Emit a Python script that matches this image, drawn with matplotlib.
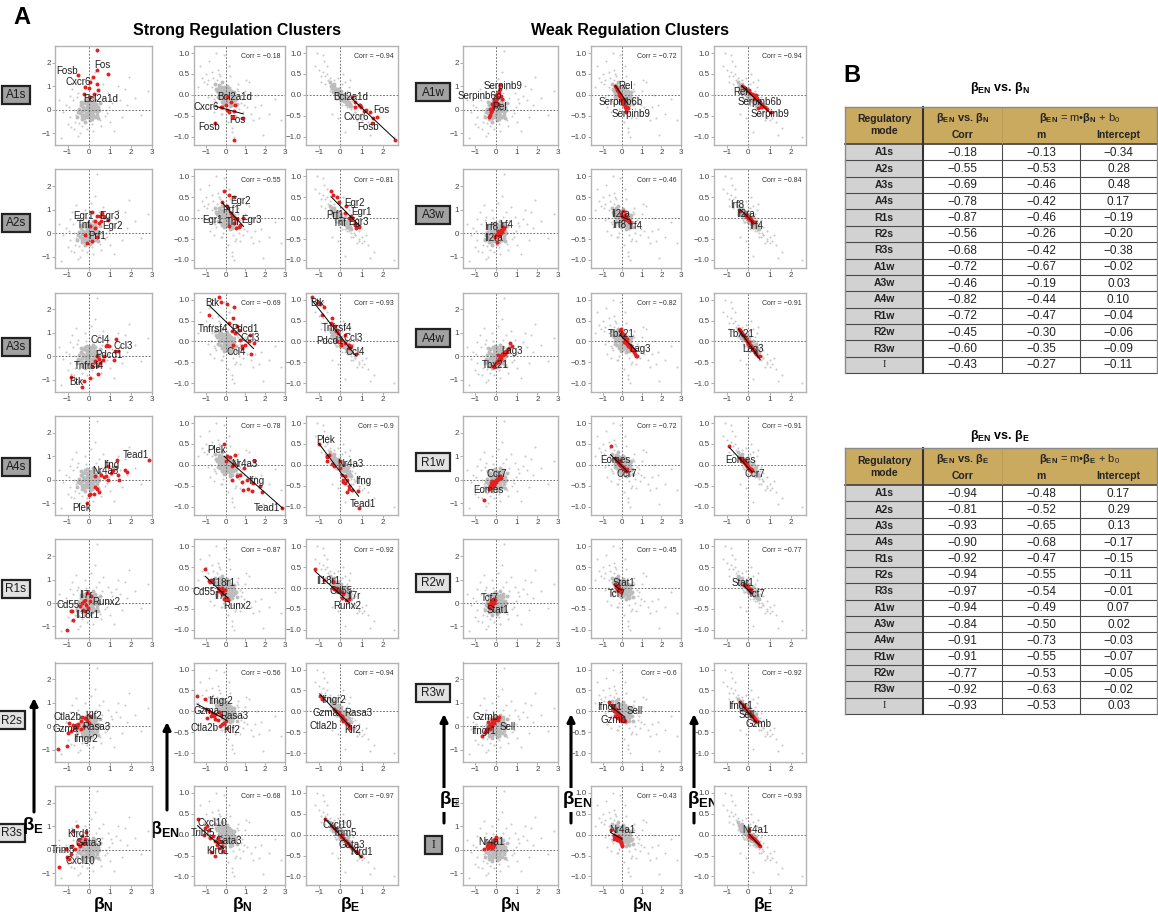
import matplotlib
matplotlib.use('Agg')
import matplotlib.pyplot as plt
from matplotlib.patches import Rectangle

plt.rcParams['font.family'] = ['Liberation Sans', 'DejaVu Sans']
plt.rcParams['mathtext.fontset'] = 'custom'
plt.rcParams['mathtext.rm'] = 'Liberation Sans'
plt.rcParams['mathtext.bf'] = 'Liberation Sans:bold'
plt.rcParams['mathtext.it'] = 'Liberation Sans:italic'
plt.rcParams['mathtext.sf'] = 'Liberation Sans'

W, H = 1158, 914

# ---- background genes (beta_N, beta_E, beta_EN), shared by every cluster panel ----
# dense core near the origin
core_n = [0.00, 0.10, -0.10, 0.15, -0.15, 0.05, -0.05, 0.25, -0.25, 0.20,
          -0.20, 0.30, -0.30, 0.08, -0.08, 0.35, -0.35, 0.12, -0.12, 0.40,
          -0.40, 0.02, -0.02, 0.18, -0.18, 0.22, -0.22, 0.28, -0.28, 0.45,
          -0.45, 0.06, -0.06, 0.32, -0.32, 0.14, -0.14, 0.26, -0.26, 0.04,
          -0.04, 0.38, -0.38, 0.50, -0.50, 0.16, -0.16, 0.09, -0.09, 0.24,
          -0.24, 0.55, -0.55, 0.34, -0.34, 0.01, -0.01, 0.20, -0.20, 0.42]
core_e = [0.00, 0.05, 0.08, -0.10, -0.12, 0.20, -0.20, 0.15, 0.10, -0.20,
          -0.25, 0.00, -0.05, 0.30, -0.32, 0.25, 0.20, -0.30, 0.28, -0.08,
          -0.15, 0.12, -0.08, 0.10, 0.02, 0.35, -0.35, -0.30, 0.30, 0.10,
          0.05, -0.45, 0.45, 0.40, -0.40, 0.18, -0.18, -0.05, -0.22, 0.38,
          0.22, -0.20, 0.35, 0.00, -0.10, -0.40, 0.40, -0.15, 0.15, 0.25,
          -0.02, 0.30, -0.30, 0.08, -0.28, -0.28, 0.30, 0.50, -0.50, -0.35]
core_en = [0.00, -0.03, -0.02, 0.06, 0.08, -0.12, 0.10, -0.10, 0.00, 0.08,
           0.14, -0.05, 0.05, -0.15, 0.18, -0.16, 0.02, 0.12, -0.10, -0.02,
           0.12, -0.08, 0.04, -0.09, 0.03, -0.20, 0.20, 0.10, -0.08, -0.12,
           0.10, 0.22, -0.22, -0.24, 0.24, -0.14, 0.12, 0.00, 0.15, -0.18,
           -0.10, 0.04, -0.06, -0.10, 0.15, 0.16, -0.16, 0.05, -0.06, -0.15,
           0.06, -0.22, 0.25, -0.08, 0.18, 0.16, -0.14, -0.26, 0.30, 0.08]
# sparse outliers
tail_n = [1.50, 2.80, -1.30, 0.40, -0.90, 1.00, 0.70, -0.70, 1.80, -1.10,
          0.90, -0.60, 1.20, -1.00, 0.60, -0.80, 2.20, 0.30, -0.40, 1.40,
          -1.40, 0.80, -0.70, 0.50, -0.50, 1.10, -0.90, 0.20, -0.20, 1.60,
          0.75, -0.75, 0.65, -0.65, 2.50, 0.10, -0.30, 0.95, -0.95, 1.30,
          -1.20, 0.55, -0.55, 1.70, 0.85, -0.45, 0.35, -0.15, 0.60, -0.60,
          -0.10, -0.50, 0.30, 1.90, -0.85, 0.45, -0.35, 1.05, 0.15, -0.25]
tail_e = [0.40, 0.80, -1.20, 2.50, 0.60, -0.50, 1.10, -0.80, 0.20, 0.20,
          0.70, 1.20, -0.90, -0.60, -0.70, 0.90, 0.50, 1.60, -1.00, 1.00,
          0.40, 0.00, 0.00, 0.90, 0.70, 0.30, -0.30, -0.90, 1.00, -0.30,
          -0.25, 0.40, 0.50, -0.50, -0.20, 1.30, -0.70, 0.10, 0.10, 0.60,
          -0.10, -0.45, 0.55, 0.90, -0.15, -0.55, 0.70, 0.65, 0.30, -0.20,
          -0.80, -1.10, 0.20, 1.40, -0.75, -0.10, 0.15, 0.45, -0.60, -0.40]
tail_en = [-0.30, -0.60, 0.70, -1.00, -0.05, 0.10, -0.55, 0.55, -0.25, 0.30,
           -0.40, -0.40, 0.30, 0.50, 0.25, -0.30, -0.45, -0.80, 0.60, -0.60,
           0.20, -0.20, 0.20, -0.50, -0.20, -0.30, 0.35, 0.45, -0.45, 0.00,
           -0.05, 0.00, -0.35, 0.40, -0.10, -0.65, 0.45, -0.25, 0.25, -0.45,
           0.40, 0.15, -0.15, -0.55, -0.10, 0.35, -0.40, -0.35, 0.10, -0.10,
           0.95, 1.00, -0.90, -0.95, 0.80, -0.55, 0.50, 0.35, 0.70, -0.45]

# ---- cluster names and regression summary (table B) ----
strong_modes = ['A1s', 'A2s', 'A3s', 'A4s', 'R1s', 'R2s', 'R3s']
weak_modes = ['A1w', 'A3w', 'A4w', 'R1w', 'R2w', 'R3w', 'I']
table_modes = strong_modes + weak_modes

corr_en_n = [-0.18, -0.55, -0.69, -0.78, -0.87, -0.56, -0.68, -0.72, -0.46, -0.82, -0.72, -0.45, -0.60, -0.43]
slope_en_n = [-0.13, -0.53, -0.46, -0.42, -0.46, -0.26, -0.42, -0.67, -0.19, -0.44, -0.47, -0.30, -0.35, -0.27]
icpt_en_n = [-0.34, 0.28, 0.48, 0.17, -0.19, -0.20, -0.38, -0.02, 0.03, 0.10, -0.04, -0.06, -0.09, -0.11]
corr_en_e = [-0.94, -0.81, -0.93, -0.90, -0.92, -0.94, -0.97, -0.94, -0.84, -0.91, -0.91, -0.77, -0.92, -0.93]
slope_en_e = [-0.48, -0.52, -0.65, -0.68, -0.47, -0.55, -0.54, -0.49, -0.50, -0.73, -0.55, -0.53, -0.63, -0.53]
icpt_en_e = [0.17, 0.29, 0.13, -0.17, -0.15, -0.11, -0.01, 0.07, 0.02, -0.03, -0.07, -0.05, -0.02, 0.03]

# ---- cluster member genes: beta_N, beta_E, beta_EN ----
A1s_N = [0.40, -0.52, 0.37, 0.89, 0.18, 0.40, 0.08, -0.16, 0.00, 0.45, 0.27, -0.24, 0.05]
A1s_E = [2.54, 1.50, 1.71, 1.54, 1.39, 1.11, 1.20, 0.97, 0.93, 0.86, 0.69, 0.67, 0.54]
A1s_EN = [-1.09, -0.68, -0.52, -0.55, -0.42, -0.38, -0.36, -0.28, -0.25, -0.25, -0.18, -0.30, -0.05]

A2s_N = [-0.08, 0.16, 0.40, -0.16, 0.05, 0.29, 0.32, 0.48, 0.56, 0.16, 0.40, 0.65, 0.90, 0.52, 0.72]
A2s_E = [-0.43, -0.33, -0.17, -0.07, 0.29, 0.21, 0.50, 0.43, 0.50, 0.89, 0.71, 0.86, 0.55, 0.75, 0.70]
A2s_EN = [0.66, 0.55, 0.50, 0.38, 0.30, 0.12, 0.05, 0.00, -0.02, -0.18, -0.12, -0.20, 0.00, -0.24, -0.16]

A3s_N = [-0.32, -0.24, -0.85, 0.05, 0.44, 0.16, 0.38, 0.55, 0.69, 0.47, 0.32, 0.72, 1.24, 1.41, 0.85, 0.97, 1.29, 0.81, 0.38, 1.20]
A3s_E = [-1.31, -1.03, -0.86, -0.93, -0.74, -0.43, -0.40, -0.26, -0.14, -0.10, -0.21, 0.03, 0.21, 0.21, 0.50, 0.43, 0.74, 0.43, 0.03, -0.14]
A3s_EN = [1.07, 0.95, 0.63, 0.90, 0.83, 0.44, 0.56, 0.36, 0.28, 0.20, 0.24, 0.04, 0.16, -0.04, -0.12, -0.08, -0.30, -0.16, -0.08, 0.00]

A4s_N = [2.87, -0.08, 0.05, 0.00, 0.24, 0.48, 0.40, 0.32, 0.32, 0.56, 0.73, 0.81, 0.92, 1.13, 0.89, 1.32, 1.37, 1.45, 1.73, 1.82, 1.07]
A4s_E = [0.86, -1.00, -0.61, -0.64, -0.61, -0.54, -0.40, -0.31, 0.14, 0.21, 0.10, 0.14, -0.03, 0.43, 0.57, 0.83, 0.21, -0.03, 0.43, 0.31, 0.30]
A4s_EN = [-1.03, 0.50, 0.20, 0.10, 0.18, 0.24, 0.02, -0.04, -0.36, -0.28, -0.24, -0.41, -0.08, -0.58, -0.61, -0.62, -0.44, 0.08, -0.50, -0.65, -0.36]

R1s_N = [-1.02, -0.76, -0.80, -0.85, -0.40, -0.32, -0.24, -0.16, -0.11, -0.05, -0.27, -0.16, 0.08, 0.11, -0.08]
R1s_E = [-1.17, -0.74, -0.36, -0.33, -0.14, 0.00, 0.07, 0.14, -0.07, -0.21, -0.29, -0.36, 0.07, 0.29, 0.43]
R1s_EN = [0.45, 0.20, 0.14, 0.16, 0.00, -0.08, -0.10, -0.14, -0.08, -0.05, -0.02, 0.00, -0.24, -0.28, -0.26]

R2s_N = [-1.45, -1.03, -0.92, -0.76, -0.71, -0.60, -0.52, -0.39, -0.31, -0.23, -0.06, 0.00, -0.35, -1.00, -0.84, -0.55, -0.20, 0.05]
R2s_E = [-0.96, -0.86, 0.14, 0.07, -0.07, 0.04, 0.10, 0.21, 0.40, 0.00, 0.29, 0.14, -0.10, -0.29, -0.21, -0.04, 0.35, 0.45]
R2s_EN = [0.38, 0.30, -0.15, -0.12, -0.04, -0.10, -0.18, -0.20, -0.35, -0.08, -0.28, -0.22, -0.02, 0.06, 0.00, -0.06, -0.30, -0.40]

R3s_N = [-1.42, -1.08, -0.85, -0.56, -0.73, -0.32, -0.11, -0.44, -0.53, -0.32, -0.16, -0.65, -0.81, -0.40, -0.20, -1.05, -0.95]
R3s_E = [-0.72, 0.03, -0.20, 0.99, 0.78, 0.57, 0.73, 0.43, 0.26, 0.29, 0.29, 0.03, 0.14, 0.14, 0.45, -0.30, -0.40]
R3s_EN = [0.38, 0.00, 0.10, -0.52, -0.42, -0.32, -0.40, -0.24, -0.15, -0.16, -0.17, -0.02, -0.08, -0.08, -0.26, 0.16, 0.20]

A1w_N = [-0.35, -0.30, -0.25, -0.20, -0.28, -0.15, -0.10, -0.18, -0.05, 0.00, -0.08, 0.05, 0.10, 0.02, 0.12, 0.15, 0.18, 0.20, 0.25, 0.28, -0.12, 0.08]
A1w_E = [-0.30, -0.22, -0.10, 0.00, 0.05, 0.10, 0.18, 0.25, 0.30, 0.40, 0.45, 0.50, 0.55, 0.62, 0.70, 0.80, 0.90, 1.07, 0.60, 0.45, 0.35, 0.25]
A1w_EN = [0.22, 0.18, 0.14, 0.10, 0.12, 0.05, 0.02, 0.00, -0.06, -0.10, -0.12, -0.14, -0.18, -0.22, -0.26, -0.30, -0.35, -0.42, -0.30, -0.32, 0.00, -0.10]

A3w_N = [0.00, 0.05, 0.10, 0.15, 0.20, 0.25, 0.30, 0.35, 0.12, 0.18, 0.28, 0.08, 0.22, 0.40, -0.05, 0.32, 0.05]
A3w_E = [-0.08, -0.05, 0.00, 0.05, 0.02, 0.10, 0.12, 0.17, -0.10, -0.02, 0.05, 0.08, 0.15, 0.20, -0.15, 0.25, -0.38]
A3w_EN = [0.06, 0.04, 0.02, 0.00, -0.01, -0.03, -0.04, -0.06, 0.08, 0.03, -0.02, 0.00, -0.05, -0.08, 0.10, -0.10, 0.17]

A4w_N = [-0.13, -0.08, 0.00, 0.05, 0.10, 0.12, 0.15, 0.20, 0.18, 0.25, 0.28, 0.30, 0.35, 0.38, 0.42, 0.45, 0.50, 0.55, 0.60, 0.65, 0.69, 0.75, 0.22, 0.08]
A4w_E = [-0.40, -0.45, -0.30, -0.20, -0.25, -0.10, -0.15, -0.05, 0.00, 0.00, 0.05, 0.10, 0.08, 0.15, 0.12, 0.20, 0.25, 0.22, 0.30, 0.35, 0.56, 0.45, -0.12, 0.05]
A4w_EN = [0.27, 0.29, 0.20, 0.12, 0.15, 0.05, 0.08, 0.02, -0.03, -0.05, -0.06, -0.10, -0.09, -0.14, -0.12, -0.17, -0.21, -0.19, -0.25, -0.30, -0.34, -0.34, 0.06, -0.02]

R1w_N = [-0.60, -0.35, -0.30, -0.28, -0.22, -0.20, -0.15, -0.12, -0.10, -0.05, 0.00, 0.02, 0.05, 0.08, 0.10, 0.15, 0.18, 0.20, 0.25, -0.18, 0.12, -0.25]
R1w_E = [-0.88, -0.40, -0.35, -0.25, -0.30, -0.20, -0.15, -0.22, -0.10, -0.05, -0.08, 0.00, -0.02, 0.05, 0.02, 0.10, 0.15, 0.17, 0.08, -0.05, 0.12, -0.15]
R1w_EN = [0.44, 0.17, 0.15, 0.12, 0.10, 0.06, 0.04, 0.08, 0.00, -0.02, -0.03, -0.05, -0.06, -0.08, -0.09, -0.12, -0.14, -0.12, -0.10, 0.02, -0.10, 0.08]

R2w_N = [-0.35, -0.30, -0.28, -0.25, -0.22, -0.20, -0.18, -0.15, -0.12, -0.10, -0.08, -0.05, -0.15, -0.25, -0.32]
R2w_E = [-0.18, -0.20, -0.10, -0.05, -0.12, 0.00, 0.05, -0.02, 0.08, 0.02, 0.10, 0.12, 0.15, 0.08, -0.05]
R2w_EN = [0.10, 0.08, 0.05, 0.04, 0.06, 0.00, -0.02, -0.01, -0.04, -0.05, -0.08, -0.10, -0.06, -0.02, 0.06]

R3w_N = [-0.69, -0.55, -0.50, -0.45, -0.40, -0.35, -0.30, -0.28, -0.25, -0.20, -0.18, -0.15, -0.10, -0.05, 0.00, 0.05, 0.10, 0.13, -0.38, -0.12, -0.22]
R3w_E = [-0.40, -0.25, -0.15, -0.20, -0.05, 0.00, -0.10, 0.05, 0.10, 0.02, 0.15, 0.20, 0.12, 0.25, 0.30, 0.35, 0.28, 0.40, 0.18, 0.30, 0.25]
R3w_EN = [0.22, 0.15, 0.08, 0.12, 0.02, 0.00, 0.05, -0.04, -0.06, -0.02, -0.10, -0.12, -0.08, -0.16, -0.18, -0.22, -0.20, -0.24, -0.10, -0.20, -0.15]

I_N = [-0.60, -0.40, -0.35, -0.30, -0.25, -0.22, -0.20, -0.18, -0.15, -0.12, -0.10, -0.08, -0.05, -0.02, 0.00, -0.28, -0.32, -0.40, -0.45]
I_E = [0.02, 0.05, 0.10, 0.15, 0.20, 0.08, 0.25, 0.30, 0.12, 0.35, 0.18, 0.40, 0.45, 0.50, 0.55, 0.30, 0.22, 0.28, 0.15]
I_EN = [0.10, 0.00, -0.02, -0.05, -0.08, -0.02, -0.10, -0.13, -0.05, -0.15, -0.08, -0.18, -0.21, -0.24, -0.26, -0.12, -0.09, -0.10, -0.04]

cluster_coefs = {
    'A1s': (A1s_N, A1s_E, A1s_EN), 'A2s': (A2s_N, A2s_E, A2s_EN),
    'A3s': (A3s_N, A3s_E, A3s_EN), 'A4s': (A4s_N, A4s_E, A4s_EN),
    'R1s': (R1s_N, R1s_E, R1s_EN), 'R2s': (R2s_N, R2s_E, R2s_EN),
    'R3s': (R3s_N, R3s_E, R3s_EN), 'A1w': (A1w_N, A1w_E, A1w_EN),
    'A3w': (A3w_N, A3w_E, A3w_EN), 'A4w': (A4w_N, A4w_E, A4w_EN),
    'R1w': (R1w_N, R1w_E, R1w_EN), 'R2w': (R2w_N, R2w_E, R2w_EN),
    'R3w': (R3w_N, R3w_E, R3w_EN), 'I': (I_N, I_E, I_EN),
}

# gene name tags: text placement in the three panels (N-E, N-EN, E-EN)
gene_tags = {
    'A1s': [('Fosb', (-1.05, 1.67), (-0.86, -0.78), (1.31, -0.78)),
            ('Fos', (0.65, 1.93), (0.60, -0.61), (1.92, -0.37)),
            ('Cxcr6', (-0.48, 1.19), (-1.00, -0.29), (0.77, -0.53)),
            ('Bcl2a1d', (0.56, 0.47), (0.47, -0.06), (0.49, -0.06))],
    'A2s': [('Egr1', (-0.24, 0.71), (-0.66, -0.04), (1.00, 0.14)),
            ('Egr3', (1.00, 0.71), (1.33, -0.04), (0.85, -0.08)),
            ('Tnf', (-0.24, 0.33), (0.38, -0.10), (-0.03, -0.12)),
            ('Egr2', (1.13, 0.29), (0.76, 0.42), (0.69, 0.37)),
            ('Prf1', (0.40, -0.11), (0.29, 0.20), (-0.23, 0.08))],
    'A3s': [('Btk', (-0.60, -1.11), (-0.66, 0.91), (-1.08, 0.91)),
            ('Tnfrsf4', (0.00, -0.40), (-0.66, 0.29), (-0.15, 0.32)),
            ('Pdcd1', (0.97, 0.07), (0.95, 0.29), (-0.46, 0.00)),
            ('Ccl3', (1.61, 0.43), (1.24, 0.08), (0.62, 0.08)),
            ('Ccl4', (0.53, 0.71), (0.55, -0.26), (0.69, -0.26))],
    'A4s': [('Tead1', (2.26, 1.07), (2.10, -1.03), (1.08, -0.93)),
            ('Ifng', (1.05, 0.64), (1.55, -0.38), (1.08, -0.38)),
            ('Nr4a3', (0.81, 0.36), (0.93, 0.02), (0.46, 0.02)),
            ('Plek', (-0.32, -1.21), (-0.48, 0.36), (-0.69, 0.60))],
    'R1s': [('Il7r', (-0.16, 0.36), (-0.22, -0.20), (0.62, -0.18)),
            ('Runx2', (0.85, 0.04), (0.59, -0.44), (0.31, -0.42)),
            ('Cd55', (-0.97, -0.07), (-1.09, -0.10), (0.03, -0.06)),
            ('Il18r1', (-0.05, -0.50), (-0.10, 0.13), (-0.54, 0.18))],
    'R2s': [('Ctla2b', (-1.00, 0.39), (-1.07, -0.40), (-0.80, -0.35)),
            ('Klf2', (0.24, 0.46), (0.29, -0.44), (0.56, -0.45)),
            ('Gzma', (-1.11, -0.10), (-0.98, 0.00), (-0.70, -0.05)),
            ('Rasa3', (0.34, -0.04), (0.46, -0.12), (0.85, -0.05)),
            ('Ifngr2', (-0.16, -0.53), (-0.25, 0.26), (-0.33, 0.28))],
    'R3s': [('Klrd1', (-0.48, 0.67), (-0.40, -0.38), (1.00, -0.42)),
            ('Gata3', (0.00, 0.27), (0.17, -0.15), (0.54, -0.24)),
            ('Trim5', (-1.21, -0.03), (-1.17, 0.05), (0.23, 0.04)),
            ('Cxcl10', (-0.40, -0.50), (-0.66, 0.29), (-0.15, 0.24))],
    'A1w': [('Serpinb9', (0.36, 1.03), (0.42, -0.46), (1.00, -0.46)),
            ('Serpinb6b', (-0.79, 0.57), (-0.08, -0.16), (0.54, -0.16)),
            ('Rel', (0.16, 0.14), (0.17, 0.21), (-0.35, 0.06))],
    'A3w': [('Irf8', (-0.26, 0.27), (-0.17, -0.16), (-0.54, 0.32)),
            ('Irf4', (0.49, 0.36), (0.63, -0.18), (0.38, -0.18)),
            ('Il2ra', (-0.10, -0.21), (-0.08, 0.10), (-0.15, 0.10))],
    'A4w': [('Lag3', (0.77, 0.21), (0.88, -0.18), (0.23, -0.18)),
            ('Tbx21', (-0.05, -0.36), (-0.05, 0.17), (-0.35, 0.17))],
    'R1w': [('Ccr7', (0.03, 0.24), (0.25, -0.22), (0.31, -0.22)),
            ('Eomes', (-0.38, -0.44), (-0.33, 0.12), (-0.38, 0.12))],
    'R2w': [('Tcf7', (-0.33, 0.20), (-0.28, -0.14), (0.38, -0.14)),
            ('Stat1', (0.11, -0.30), (0.08, 0.11), (-0.23, 0.11))],
    'R3w': [('Gzmb', (-0.52, 0.40), (-0.46, -0.20), (0.46, -0.30)),
            ('Sell', (0.54, -0.03), (0.64, 0.00), (-0.08, -0.09)),
            ('Ifngr1', (-0.60, -0.21), (-0.66, 0.10), (-0.38, 0.13))],
    'I': [('Nr4a1', (-0.25, 0.33), (0.00, 0.10), (0.35, 0.10))],
}

# ---- layout (pixels) ----
strong_cols = [(55, 152), (194, 285), (306, 398)]
weak_cols = [(463, 558), (591, 681), (714, 806)]
row_tops = [46 + 123.3 * i for i in range(7)]
panel_h = 99
strong_box_x = [16, 16, 16, 16, 16, 11, 11]
strong_box_y = [95, 223, 347, 467, 589, 720, 833]
weak_box_x = [433] * 7
weak_box_y = [92, 215, 338, 462, 583, 693, 845]

fig = plt.figure(figsize=(W / 100, H / 100), dpi=100)

# overlay in pixel units for the labels, arrows and tables
ov = fig.add_axes([0, 0, 1, 1])
ov.set_xlim(0, W)
ov.set_ylim(H, 0)
ov.axis('off')


def px_axes(x0, x1, top):
    return fig.add_axes([x0 / W, 1 - (top + panel_h) / H, (x1 - x0) / W, panel_h / H])


def fmt_num(v, spec):
    return format(v, spec).replace('-', '\u2212')


def scatter_panel(ax, kind, bg, xs, ys, tags, corr=None, slope=None, icpt=None):
    (cx, cy), (tx_, ty_) = bg
    ax.scatter(tx_, ty_, s=2.2, c='#c9c9c9', linewidths=0, zorder=1)
    ax.scatter(cx, cy, s=8, c='#bcbcbc', linewidths=0, zorder=1)
    ax.axhline(0, color='#555555', lw=0.6, ls=(0, (2, 2)), zorder=2)
    ax.axvline(0, color='#555555', lw=0.6, ls=(0, (2, 2)), zorder=2)
    ax.scatter(xs, ys, s=8, c='#e3201f', linewidths=0, zorder=3)
    if slope is not None:
        xr = [min(xs), max(xs)]
        ax.plot(xr, [slope * v + icpt for v in xr], color='black', lw=0.7, zorder=4)
    for name, (tx, ty) in tags:
        ax.text(tx, ty, name, ha='center', va='center', fontsize=7, color='#1f1f1f', zorder=5)
    if corr is not None:
        ax.text(0.95, 0.89, 'Corr = ' + fmt_num(corr, 'g'), transform=ax.transAxes,
                ha='right', va='center', fontsize=5, color='#333333')
    if kind == 0:
        ax.set_xlim(-1.6, 3.0)
        ax.set_ylim(-1.5, 2.72)
        ax.set_xticks([-1, 0, 1, 2, 3])
        ax.set_yticks([-1, 0, 1, 2])
    else:
        ax.set_xlim(-1.6, 3.0 if kind == 1 else 2.7)
        ax.set_ylim(-1.2, 1.17)
        ax.set_xticks([-1, 0, 1, 2, 3] if kind == 1 else [-1, 0, 1, 2])
        ax.set_yticks([-1.0, -0.5, 0.0, 0.5, 1.0])
        ax.set_yticklabels([fmt_num(v, '.1f') for v in [-1.0, -0.5, 0.0, 0.5, 1.0]])
    ax.tick_params(labelsize=5.8, length=2, width=0.5, pad=1, colors='#888888', labelcolor='#444444')
    for sp in ax.spines.values():
        sp.set_color('#b3b3b3')
        sp.set_linewidth(1.0)


bg_ne = ((core_n, core_e), (tail_n, tail_e))
bg_nen = ((core_n, core_en), (tail_n, tail_en))
bg_een = ((core_e, core_en), (tail_e, tail_en))

for block, modes, cols in [(0, strong_modes, strong_cols), (1, weak_modes, weak_cols)]:
    for r, mode in enumerate(modes):
        k = table_modes.index(mode)
        bn, be, ben = cluster_coefs[mode]
        tags = gene_tags[mode]
        top = row_tops[r]
        a1 = px_axes(cols[0][0], cols[0][1], top)
        scatter_panel(a1, 0, bg_ne, bn, be, [(t[0], t[1]) for t in tags])
        a2 = px_axes(cols[1][0], cols[1][1], top)
        scatter_panel(a2, 1, bg_nen, bn, ben, [(t[0], t[2]) for t in tags],
                      corr_en_n[k], slope_en_n[k], icpt_en_n[k])
        a3 = px_axes(cols[2][0], cols[2][1], top)
        scatter_panel(a3, 2, bg_een, be, ben, [(t[0], t[3]) for t in tags],
                      corr_en_e[k], slope_en_e[k], icpt_en_e[k])

# cluster name boxes
for modes, bxs, bys, bw in [(strong_modes, strong_box_x, strong_box_y, 28),
                            (weak_modes, weak_box_x, weak_box_y, 34)]:
    for mode, bx, by in zip(modes, bxs, bys):
        fill = '#e2e2e2' if mode.startswith('R') else '#a2a2a2'
        w = 17 if mode == 'I' else bw
        ov.add_patch(Rectangle((bx - w / 2, by - 9), w, 18, fc=fill, ec='#222222', lw=1.6))
        fam = ['Liberation Serif'] if mode == 'I' else ['Liberation Sans', 'DejaVu Sans']
        ov.text(bx, by + 0.5, mode, ha='center', va='center', fontsize=8.5, color='#1a1a1a', family=fam)

# titles and panel letters
ov.text(22, 18, 'A', ha='center', va='center', fontsize=17, weight='bold')
ov.text(237, 30, 'Strong Regulation Clusters', ha='center', va='center', fontsize=11.5, weight='bold')
ov.text(630, 30, 'Weak Regulation Clusters', ha='center', va='center', fontsize=11.5, weight='bold')
ov.text(852, 75, 'B', ha='center', va='center', fontsize=17, weight='bold')

# axis arrows and axis names
arrow_kw = dict(arrowstyle='-|>', color='black', lw=2.2, mutation_scale=11, shrinkA=0, shrinkB=0)
ov.annotate('', xy=(34, 698), xytext=(34, 812), arrowprops=arrow_kw)
ov.annotate('', xy=(167, 722), xytext=(167, 810), arrowprops=arrow_kw)
ov.text(33, 826, r'$\mathbf{β_E}$', ha='center', va='center', fontsize=13.5)
ov.text(165, 830, r'$\mathbf{β_{EN}}$', ha='center', va='center', fontsize=13)
for ax_x, lx, lab in [(444, 450, r'$\mathbf{β_E}$'), (571, 577, r'$\mathbf{β_{EN}}$'), (694, 702, r'$\mathbf{β_{EN}}$')]:
    ov.annotate('', xy=(ax_x, 714), xytext=(ax_x, 823), arrowprops=arrow_kw)
    ov.text(lx, 800, lab, ha='center', va='center', fontsize=13.5,
            bbox=dict(fc='white', ec='none', pad=1.0))

for lx, lab in [(103, r'$\mathbf{β_N}$'), (242, r'$\mathbf{β_N}$'), (350, r'$\mathbf{β_E}$'),
                (510, r'$\mathbf{β_N}$'), (642, r'$\mathbf{β_N}$'), (763, r'$\mathbf{β_E}$')]:
    ov.text(lx, 905, lab, ha='center', va='center', fontsize=12.5)


def draw_table(title_y, top, corr, slope, icpt, var):
    xs = [845, 923, 1002, 1080, 1157]
    hh = 37
    rh = 16.36
    body = top + hh
    n = len(table_modes)
    bottom = body + n * rh
    ov.text(1000, title_y, r'$\mathbf{β_{EN}}$ vs. $\mathbf{β_%s}$' % var,
            ha='center', va='center', fontsize=9, weight='bold')
    ov.add_patch(Rectangle((xs[0], top), xs[4] - xs[0], hh, fc='#c9aa5f', ec='none'))
    ov.add_patch(Rectangle((xs[0], body), xs[1] - xs[0], n * rh, fc='#d2d2d2', ec='none'))
    ov.text((xs[0] + xs[1]) / 2, top + hh / 2, 'Regulatory\nmode', ha='center', va='center',
            fontsize=7.5, weight='bold', linespacing=1.25, color='#222222')
    ov.text((xs[1] + xs[2]) / 2, top + 11, r'$\mathbf{β_{EN}}$ vs. $\mathbf{β_%s}$' % var,
            ha='center', va='center', fontsize=8, weight='bold', color='#222222')
    ov.text((xs[1] + xs[2]) / 2, top + 28, 'Corr', ha='center', va='center',
            fontsize=7.5, weight='bold', color='#222222')
    ov.text((xs[2] + xs[4]) / 2, top + 11, r'$\mathbf{β_{EN}}$ = m•$\mathbf{β_%s}$ + b$_0$' % var,
            ha='center', va='center', fontsize=8, color='#222222')
    ov.text((xs[2] + xs[3]) / 2, top + 28, 'm', ha='center', va='center',
            fontsize=7.5, weight='bold', color='#222222')
    ov.text((xs[3] + xs[4]) / 2, top + 28, 'Intercept', ha='center', va='center',
            fontsize=7.5, weight='bold', color='#222222')
    for i, mode in enumerate(table_modes):
        yc = body + (i + 0.5) * rh
        fam = ['Liberation Serif'] if mode == 'I' else ['Liberation Sans', 'DejaVu Sans']
        ov.text((xs[0] + xs[1]) / 2, yc, mode, ha='center', va='center', fontsize=7.5,
                weight='normal' if mode == 'I' else 'bold', family=fam, color='#222222')
        for j, vals in enumerate([corr, slope, icpt]):
            ov.text((xs[j + 1] + xs[j + 2]) / 2, yc + 0.5, fmt_num(vals[i], '.2f'),
                    ha='center', va='center', fontsize=8.5, color='#222222')
    for i in range(n + 1):
        y = body + i * rh
        ov.plot([xs[0], xs[4]], [y, y], color='#4a4a4a', lw=1.3 if i == 0 else 0.8)
    ov.plot([xs[1], xs[1]], [top, bottom], color='#333333', lw=1.5)
    ov.plot([xs[2], xs[2]], [top, top + hh], color='#b89a55', lw=0.6)
    for xv in xs[2:4]:
        ov.plot([xv, xv], [body, bottom], color='#4a4a4a', lw=0.8)
    ov.plot([xs[0], xs[0]], [top, bottom], color='#8a8a8a', lw=1.0)
    ov.plot([xs[4], xs[4]], [top, bottom], color='#8a8a8a', lw=1.0)
    ov.plot([xs[0], xs[4]], [top, top], color='#8a8a8a', lw=1.0)


draw_table(88, 107, corr_en_n, slope_en_n, icpt_en_n, 'N')
draw_table(436, 448, corr_en_e, slope_en_e, icpt_en_e, 'E')

fig.savefig('out.png', dpi=100)
